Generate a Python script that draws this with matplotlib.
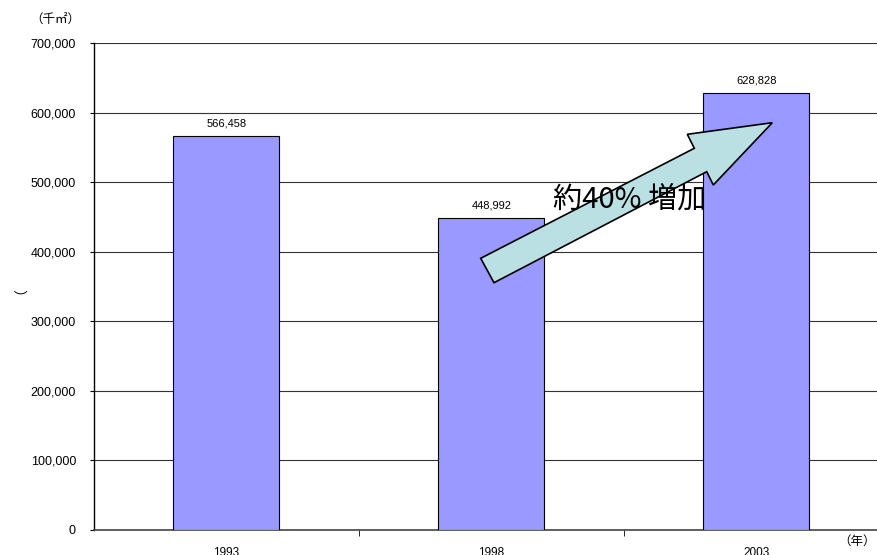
import matplotlib.pyplot as plt
import matplotlib.patches as mpatches
from matplotlib.ticker import FuncFormatter

plt.rcParams['font.family'] = ['Liberation Sans', 'Noto Sans CJK JP', 'DejaVu Sans']

years = ['1993', '1998', '2003']
areas = [566458, 448992, 628828]  # 千㎡

W, H = 878, 555
fig = plt.figure(figsize=(W / 100, H / 100), dpi=100)
ax = fig.add_axes([94 / W, 25 / H, 795 / W, 487 / H])

x = range(len(years))
ax.bar(x, areas, width=0.4, color='#9999FF', edgecolor='black', linewidth=0.8, zorder=3)
for xi, v in zip(x, areas):
    ax.annotate(f'{v:,}', (xi, v), xytext=(0, 5), textcoords='offset points',
                ha='center', va='bottom', fontsize=8)

ax.set_xlim(-0.5, 2.5)
ax.set_ylim(0, 700000)
ax.set_yticks(range(0, 700001, 100000))
ax.yaxis.set_major_formatter(FuncFormatter(lambda v, p: f'{int(v):,}'))
ax.grid(axis='y', color='#333333', linewidth=0.8, zorder=0)

ax.set_xticks(list(x))
ax.set_xticklabels(years)
ax.set_xticks([0.5, 1.5], minor=True)
ax.tick_params(axis='x', which='major', length=0, pad=12, labelsize=8.5)
ax.tick_params(axis='x', which='minor', length=4, direction='out')
ax.tick_params(axis='y', length=3, labelsize=9, pad=10)

for s in ['top', 'right']:
    ax.spines[s].set_visible(False)
ax.spines['left'].set_linewidth(1.0)
ax.spines['bottom'].set_color('#444444')
ax.spines['bottom'].set_linewidth(1.2)

fig.text(14 / W, 1 - 287 / H, '（', fontsize=10, rotation=90, va='center', ha='center',
         family=['Noto Sans CJK JP', 'DejaVu Sans'])

fig.text(30 / W, 1 - 20 / H, '（千㎡）', fontsize=9, va='center', ha='left',
         family=['Noto Sans CJK JP', 'DejaVu Sans'])
fig.text(838 / W, 1 - 541 / H, '（年）', fontsize=9, va='center', ha='left',
         family=['Noto Sans CJK JP', 'DejaVu Sans'])

# growth arrow, outline in pixel space
arrow_px = [(480.7, 258.3), (694.3, 148.3), (687.3, 134.3), (772.3, 122.7),
            (713.3, 185.0), (706.7, 171.7), (494.0, 282.7)]
arrow = mpatches.Polygon([(px / W, 1 - py / H) for px, py in arrow_px], closed=True,
                         transform=fig.transFigure, facecolor='#BBE0E3',
                         edgecolor='black', linewidth=1.2, zorder=5)
fig.patches.append(arrow)
fig.text(630 / W, 1 - 200 / H, '約40% 増加', fontsize=21, ha='center', va='center',
         family=['Noto Sans CJK JP', 'DejaVu Sans'], zorder=6)

fig.savefig('out.png', dpi=100)
